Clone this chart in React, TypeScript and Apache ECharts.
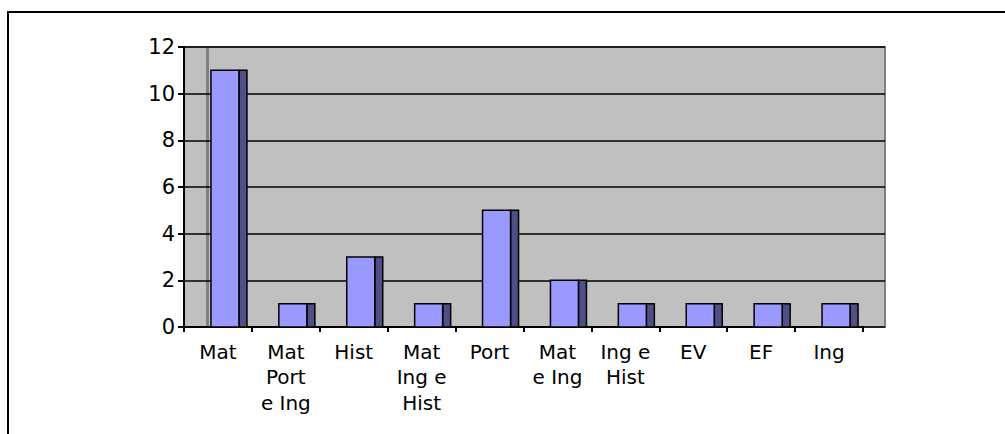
import React, { useEffect, useRef } from "react";
import * as echarts from "echarts";

const categories = [
  "Mat",
  "Mat\nPort\ne Ing",
  "Hist",
  "Mat\nIng e\nHist",
  "Port",
  "Mat\ne Ing",
  "Ing e\nHist",
  "EV",
  "EF",
  "Ing",
];
const values = [11, 1, 3, 1, 5, 2, 1, 1, 1, 1];
const yTicks = { min: 0, max: 12, interval: 2 };

const FONT = "DejaVu Sans";

export default function App() {
  const ref = useRef<HTMLDivElement>(null);
  useEffect(() => {
    if (!ref.current) return;
    const chart = echarts.init(ref.current, undefined, { renderer: "svg" });
    const top = 47;
    const bottom = 434 - 327;
    chart.setOption({
      animation: false,
      backgroundColor: "#ffffff",
      grid: [
        {
          left: 184,
          right: 1005 - 885,
          top,
          bottom,
          show: true,
          backgroundColor: "#C0C0C0",
          borderColor: "#808080",
          borderWidth: 2,
        },
        { left: 184, right: 1005 - 863, top, bottom },
      ],
      xAxis: [
        { gridIndex: 0, type: "value", min: 0, max: 1, show: false },
        {
          gridIndex: 1,
          type: "category",
          data: categories,
          boundaryGap: true,
          axisLine: { show: true, lineStyle: { color: "#000", width: 2 } },
          axisTick: { show: true, length: 5, lineStyle: { color: "#000", width: 2 } },
          axisLabel: {
            interval: 0,
            color: "#000",
            fontFamily: FONT,
            fontSize: 20,
            lineHeight: 25.5,
            margin: 12,
            verticalAlign: "top",
          },
          splitLine: { show: false },
        },
      ],
      yAxis: [
        {
          gridIndex: 0,
          type: "value",
          min: yTicks.min,
          max: yTicks.max,
          interval: yTicks.interval,
          axisLine: { show: true, lineStyle: { color: "#000", width: 2 } },
          axisTick: { show: true, length: 6, lineStyle: { color: "#000", width: 2 } },
          axisLabel: { color: "#000", fontFamily: FONT, fontSize: 21, margin: 9 },
          splitLine: { show: true, lineStyle: { color: "#000", width: 1.5 } },
        },
        {
          gridIndex: 1,
          type: "value",
          min: yTicks.min,
          max: yTicks.max,
          interval: yTicks.interval,
          show: false,
          splitLine: { show: false },
        },
      ],
      graphic: [
        {
          type: "rect",
          shape: { x: 8, y: 12, width: 1200, height: 600 },
          style: { fill: "transparent", stroke: "#000", lineWidth: 2 },
          silent: true,
        },
        {
          type: "line",
          shape: { x1: 207.5, y1: top, x2: 207.5, y2: 327 },
          style: { stroke: "#808080", lineWidth: 3 },
          z: 0,
          silent: true,
        },
      ],
      series: [
        {
          type: "custom",
          xAxisIndex: 1,
          yAxisIndex: 1,
          z: 5,
          data: values.map((v, i) => [i, v]),
          renderItem: (params: any, api: any) => {
            const idx = api.value(0);
            const v = api.value(1);
            const t = api.coord([idx, v]);
            const b = api.coord([idx, 0]);
            const cx = t[0];
            const h = b[1] - t[1];
            return {
              type: "group",
              children: [
                {
                  type: "rect",
                  shape: { x: cx + 21, y: t[1], width: 8, height: h },
                  style: { fill: "#4F4F86", stroke: "#000", lineWidth: 1.5 },
                },
                {
                  type: "rect",
                  shape: { x: cx - 7, y: t[1], width: 28, height: h },
                  style: { fill: "#9999FF", stroke: "#000", lineWidth: 1.5 },
                },
              ],
            };
          },
        },
      ],
    });
    return () => chart.dispose();
  }, []);
  return (
    <div
      ref={ref}
      style={{ position: "absolute", left: 0, top: 0, width: 1005, height: 434 }}
    />
  );
}
